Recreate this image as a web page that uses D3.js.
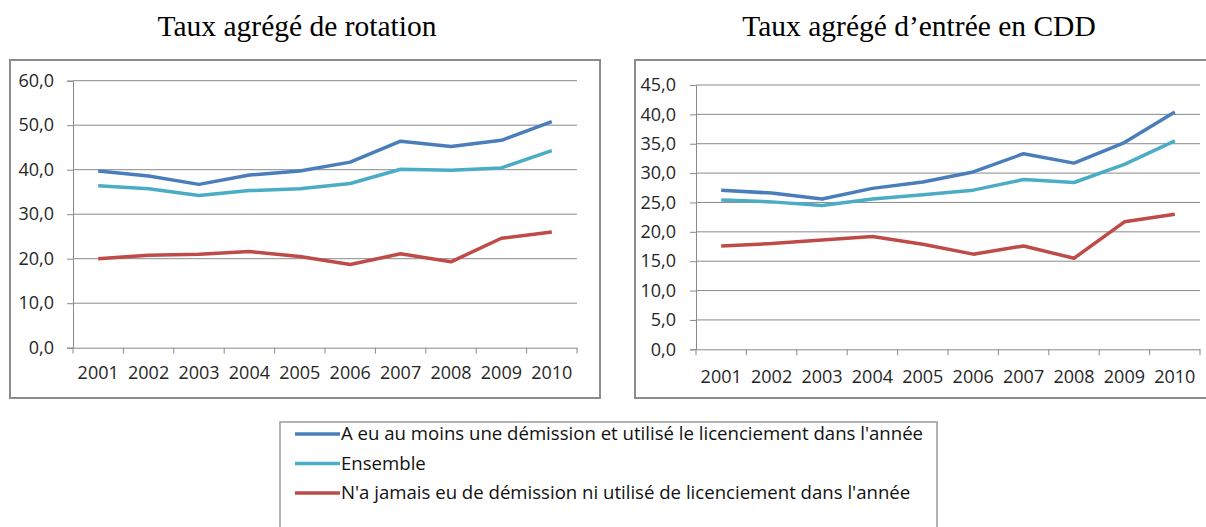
<!DOCTYPE html>
<html>
<head>
<meta charset="utf-8">
<script src="https://cdn.jsdelivr.net/npm/d3@7"></script>
<style>
    body { margin: 0; background: #fff; }
    svg { display: block; }
    .tick text { font-family: "Open Sans", "Liberation Sans", Arial, sans-serif; font-size: 18px; fill: #262626; }
</style>
</head>
<body>
<svg width="1206" height="527"></svg>
<script>
let years = ["2001", "2002", "2003", "2004", "2005", "2006", "2007", "2008", "2009", "2010"];

let seriesNames = [
    "A eu au moins une démission et utilisé le licenciement dans l'année",
    "Ensemble",
    "N'a jamais eu de démission ni utilisé de licenciement dans l'année"
];
let seriesColors = ["#4a7ebb", "#4bacc6", "#be4b48"];

// Taux agrégé de rotation
let rotationDemLic = [39.7, 38.6, 36.7, 38.8, 39.7, 41.7, 46.4, 45.2, 46.6, 50.8];
let rotationEnsemble = [36.4, 35.7, 34.2, 35.3, 35.7, 36.9, 40.1, 39.9, 40.4, 44.3];
let rotationJamais = [20.0, 20.8, 21.0, 21.6, 20.5, 18.7, 21.1, 19.3, 24.6, 26.0];
let rotationTicks = [0, 10, 20, 30, 40, 50, 60];

// Taux agrégé d'entrée en CDD
let cddDemLic = [27.1, 26.6, 25.6, 27.4, 28.5, 30.2, 33.3, 31.7, 35.2, 40.4];
let cddEnsemble = [25.4, 25.1, 24.5, 25.6, 26.3, 27.1, 28.9, 28.4, 31.5, 35.5];
let cddJamais = [17.6, 18.0, 18.6, 19.2, 17.9, 16.2, 17.6, 15.5, 21.7, 23.0];
let cddTicks = [0, 5, 10, 15, 20, 25, 30, 35, 40, 45];

let svg = d3.select("svg");
let fmt = function (d) { return d3.format(".1f")(d).replace(".", ","); };

function drawPanel(opts) {
    let g = svg.append("g");

    // outer frame
    g.append("rect")
        .attr("x", opts.box[0]).attr("y", opts.box[1])
        .attr("width", opts.box[2]).attr("height", opts.box[3])
        .attr("fill", "none")
        .attr("stroke", "#8c8c8c")
        .attr("stroke-width", 2);

    svg.append("text")
        .attr("x", opts.titleX).attr("y", 36)
        .attr("text-anchor", "middle")
        .style("font-family", "'Liberation Serif', 'Times New Roman', serif")
        .style("font-size", "29.5px")
        .attr("fill", "#000")
        .text(opts.title);

    let x = d3.scaleBand().domain(years).range([opts.left, opts.right]);
    let y = d3.scaleLinear().domain([0, d3.max(opts.ticks)]).range([opts.bottom, opts.top]);

    // gridlines
    g.append("g")
        .selectAll("line")
        .data(opts.ticks.slice(1))
        .enter()
        .append("line")
        .attr("x1", opts.left).attr("x2", opts.right)
        .attr("y1", function (d) { return y(d); })
        .attr("y2", function (d) { return y(d); })
        .attr("stroke", "#8a8a8a")
        .attr("stroke-width", 1);

    let yAxis = d3.axisLeft(y).tickValues(opts.ticks).tickFormat(fmt).tickSize(6).tickPadding(opts.yPad);
    let yg = g.append("g")
        .attr("transform", "translate(" + opts.left + ",0)")
        .call(yAxis);
    yg.selectAll("line, path").attr("stroke", "#8a8a8a");

    // x axis: ticks sit on the band edges
    let xg = g.append("g")
        .attr("transform", "translate(0," + opts.bottom + ")")
        .call(d3.axisBottom(x).tickSize(0).tickPadding(opts.xPad));
    xg.select(".domain").attr("stroke", "#8a8a8a");
    xg.selectAll("line").remove();
    let edges = years.map(function (d) { return x(d); }).concat([opts.right]);
    xg.selectAll(".edge")
        .data(edges)
        .enter()
        .append("line")
        .attr("x1", function (d) { return d; })
        .attr("x2", function (d) { return d; })
        .attr("y1", 0).attr("y2", 6)
        .attr("stroke", "#8a8a8a");

    let line = d3.line()
        .x(function (d, i) { return x(years[i]) + x.bandwidth() / 2; })
        .y(function (d) { return y(d); });

    g.selectAll(".series")
        .data(opts.series)
        .enter()
        .append("path")
        .attr("fill", "none")
        .attr("stroke", function (d, i) { return seriesColors[i]; })
        .attr("stroke-width", 3.5)
        .attr("stroke-linejoin", "round")
        .attr("d", function (d) { return line(d); });
}

drawPanel({
    title: "Taux agrégé de rotation",
    titleX: 297,
    box: [10, 60, 590, 338],
    left: 73, right: 577, top: 80.7, bottom: 347.7,
    ticks: rotationTicks,
    yPad: 13, xPad: 19,
    series: [rotationDemLic, rotationEnsemble, rotationJamais]
});

drawPanel({
    title: "Taux agrégé d’entrée en CDD",
    titleX: 919,
    box: [635, 60, 600, 338],
    left: 696, right: 1200, top: 85, bottom: 349.3,
    ticks: cddTicks,
    yPad: 14, xPad: 21,
    series: [cddDemLic, cddEnsemble, cddJamais]
});

// legend
let legend = svg.append("g");
legend.append("rect")
    .attr("x", 280).attr("y", 422)
    .attr("width", 657).attr("height", 120)
    .attr("fill", "#fff")
    .attr("stroke", "#9a9a9a")
    .attr("stroke-width", 1.5);

let items = legend.selectAll(".item")
    .data(seriesNames)
    .enter()
    .append("g")
    .attr("transform", function (d, i) { return "translate(295," + (434 + i * 29.5) + ")"; });

items.append("line")
    .attr("x1", 0).attr("x2", 45)
    .attr("stroke", function (d, i) { return seriesColors[i]; })
    .attr("stroke-width", 3.5);

items.append("text")
    .attr("x", 46).attr("y", 6)
    .style("font-family", "'Open Sans', 'Liberation Sans', Arial, sans-serif")
    .style("font-size", "18.6px")
    .attr("fill", "#111")
    .text(function (d) { return d; });
</script>
</body>
</html>
